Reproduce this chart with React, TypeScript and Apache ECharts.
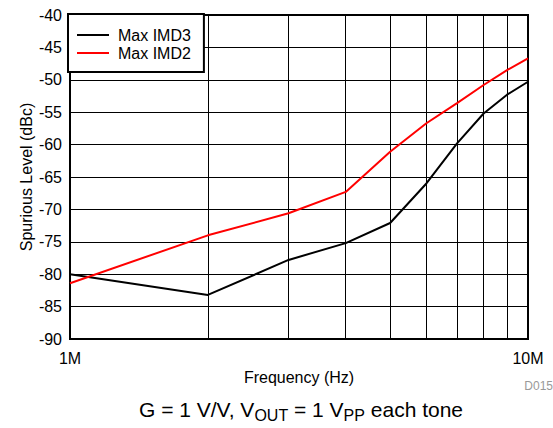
import React, { useEffect, useRef } from "react";
import * as echarts from "echarts";

const freqs = [1e6, 2e6, 3e6, 4e6, 5e6, 6e6, 7e6, 8e6, 9e6, 1e7];
const imd3 = [-80.0, -83.2, -77.8, -75.2, -72.1, -66.0, -59.8, -55.2, -52.3, -50.3];
const imd2 = [-81.4, -74.0, -70.6, -67.3, -61.1, -56.7, -53.6, -50.8, -48.5, -46.7];
const gridFreqs = [2e6, 3e6, 4e6, 5e6, 6e6, 7e6, 8e6, 9e6];
const seriesNames = ["Max IMD3", "Max IMD2"];
const yMin = -90;
const yMax = -40;
const yStep = 5;

const FONT = "'Liberation Sans', Arial, Helvetica, sans-serif";

export default function App() {
  const ref = useRef<HTMLDivElement>(null);
  useEffect(() => {
    if (!ref.current) return;
    const chart = echarts.init(ref.current, undefined, { renderer: "svg" });
    const pair = (vals: number[]) => freqs.map((f, i) => [f, vals[i]]);
    chart.setOption({
      animation: false,
      backgroundColor: "#fff",
      textStyle: { fontFamily: FONT },
      grid: {
        left: 70,
        top: 15,
        right: 25,
        bottom: 89,
        show: true,
        borderColor: "#000",
        borderWidth: 2,
        backgroundColor: "transparent",
        z: 3,
      },
      title: {
        text: "{a|G = 1 V/V, V}{s|OUT}{a| = 1 V}{s|PP}{a| each tone}",
        left: 139,
        top: 399,
        padding: 0,
        textStyle: {
          fontWeight: "normal",
          rich: {
            a: { fontSize: 21, fontWeight: "normal", fontFamily: FONT, color: "#000", lineHeight: 24, verticalAlign: "top" },
            s: { fontSize: 16, fontWeight: "normal", fontFamily: FONT, color: "#000", lineHeight: 13, verticalAlign: "bottom" },
          },
        },
      },
      legend: {
        data: seriesNames,
        orient: "vertical",
        left: 68,
        top: 14,
        padding: [13, 13, 11, 9],
        itemGap: 2,
        itemWidth: 32,
        itemHeight: 2,
        icon: "rect",
        borderColor: "#000",
        borderWidth: 2,
        backgroundColor: "#fff",
        textStyle: { fontSize: 16, fontFamily: FONT, color: "#000", lineHeight: 16, padding: [0, 0, 0, 4] },
        z: 20,
      },
      xAxis: {
        type: "log",
        logBase: 10,
        min: 1e6,
        max: 1e7,
        name: "Frequency (Hz)",
        nameLocation: "middle",
        nameGap: 30,
        nameMoveOverlap: false,
        nameTextStyle: { fontSize: 16, color: "#000", fontFamily: FONT },
        axisLine: { show: false },
        axisTick: { show: false },
        splitLine: { show: false },
        axisLabel: {
          fontSize: 16,
          color: "#000",
          margin: 11,
          fontFamily: FONT,
          formatter: (v: number) => Math.round(v / 1e6) + "M",
        },
      },
      yAxis: {
        type: "value",
        min: yMin,
        max: yMax,
        interval: yStep,
        name: "Spurious Level (dBc)",
        nameLocation: "middle",
        nameGap: 36,
        nameMoveOverlap: false,
        nameTextStyle: { fontSize: 16, color: "#000", fontFamily: FONT },
        axisLine: { show: false },
        axisTick: { show: false },
        splitLine: { show: true, lineStyle: { color: "#000", width: 1 } },
        axisLabel: { fontSize: 16, color: "#000", margin: 8, fontFamily: FONT },
      },
      graphic: [
        {
          type: "text",
          right: 0,
          top: 380,
          style: { text: "D015", fontSize: 12, fill: "#999", fontFamily: FONT },
        },
      ],
      series: [
        {
          name: "grid",
          type: "line",
          data: [],
          z: 1,
          silent: true,
          markLine: {
            silent: true,
            symbol: "none",
            label: { show: false },
            lineStyle: { color: "#000", width: 1, type: "solid" },
            data: gridFreqs.map((f) => ({ xAxis: f })),
            z: 1,
          },
        },
        {
          name: seriesNames[0],
          type: "line",
          data: pair(imd3),
          showSymbol: false,
          symbol: "none",
          lineStyle: { color: "#000", width: 2 },
          itemStyle: { color: "#000" },
          z: 10,
        },
        {
          name: seriesNames[1],
          type: "line",
          data: pair(imd2),
          showSymbol: false,
          symbol: "none",
          lineStyle: { color: "#ff0000", width: 2 },
          itemStyle: { color: "#ff0000" },
          z: 10,
        },
      ],
    });
    return () => chart.dispose();
  }, []);
  return (
    <div
      ref={ref}
      style={{ position: "fixed", left: 0, top: 0, width: 553, height: 428 }}
    />
  );
}
